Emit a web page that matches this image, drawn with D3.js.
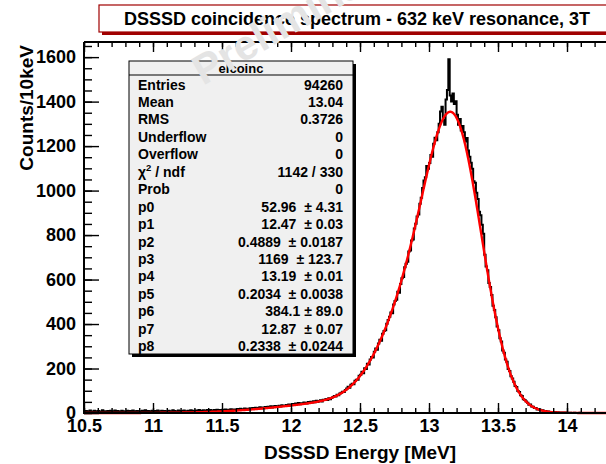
<!DOCTYPE html>
<html>
<head>
<meta charset="utf-8">
<script src="https://cdn.jsdelivr.net/npm/d3@7"></script>
<style>
  body { margin: 0; background: #fff; }
  svg text { font-family: "Liberation Sans", Arial, Helvetica, sans-serif; font-weight: bold; }
</style>
</head>
<body>
<div id="plot"></div>
<script>
// histogram: 400 bins of 10 keV from 10.5 MeV
var binLow = 10.5;
var binWidth = 0.01;
var counts = [
  6, 9, 4, 8, 11, 5, 7, 10, 6, 8,
  9, 5, 7, 12, 6, 8, 4, 9, 7, 10,
  5, 8, 11, 6, 9, 7, 5, 10, 8, 6,
  7, 10, 6, 9, 5, 11, 8, 6, 9, 7,
  8, 6, 10, 7, 12, 5, 9, 8, 6, 10,
  7, 9, 6, 11, 8, 5, 10, 7, 9, 8,
  6, 10, 8, 7, 12, 9, 5, 8, 11, 7,
  9, 7, 11, 8, 6, 10, 9, 12, 7, 10,
  8, 11, 9, 13, 7, 10, 12, 9, 11, 14,
  10, 13, 11, 9, 14, 12, 15, 10, 13, 12,
  14, 11, 16, 13, 15, 12, 17, 14, 16, 13,
  15, 18, 14, 19, 16, 17, 20, 15, 19, 18,
  21, 18, 22, 19, 24, 20, 23, 26, 21, 25,
  24, 27, 23, 28, 26, 30, 25, 29, 31, 27,
  30, 33, 29, 35, 32, 31, 36, 33, 38, 34,
  37, 41, 38, 43, 40, 45, 39, 44, 42, 47,
  45, 43, 49, 46, 51, 47, 53, 48, 55, 50,
  54, 57, 52, 60, 58, 63, 59, 66, 62, 68,
  72, 76, 74, 82, 80, 88, 91, 96, 94, 103,
  110, 118, 114, 127, 131, 129, 145, 150, 149, 168,
  172, 185, 179, 201, 198, 221, 218, 240, 252, 249,
  275, 290, 284, 312, 329, 325, 356, 369, 372, 401,
  418, 433, 452, 449, 488, 503, 509, 545, 541, 580,
  606, 612, 655, 671, 680, 726, 731, 776, 780, 829,
  851, 884, 893, 941, 968, 1012, 1045, 1060, 1110, 1098,
  1124, 1160, 1152, 1210, 1238, 1226, 1262, 1301, 1355, 1377,
  1318, 1296, 1410, 1452, 1590, 1428, 1401, 1436, 1389, 1402,
  1341, 1296, 1322, 1270, 1290, 1262, 1221, 1236, 1180, 1152,
  1125, 1098, 1042, 1035, 990, 962, 905, 889, 846, 806,
  712, 659, 642, 585, 567, 530, 482, 463, 431, 389,
  372, 336, 321, 281, 271, 240, 230, 198, 189, 165,
  155, 141, 121, 117, 99, 94, 80, 76, 62, 59,
  52, 46, 37, 38, 29, 28, 22, 23, 16, 17,
  15, 11, 12, 8, 9, 6, 7, 4, 5, 3,
  3, 4, 2, 3, 2, 1, 2, 1, 2, 1,
  1, 0, 1, 0, 0, 1, 0, 0, 0, 1,
  0, 0, 0, 0, 0, 0, 0, 0, 0, 0,
  0, 0, 0, 0, 0, 0, 0, 0, 0, 0,
  0, 0, 0, 0, 0, 0, 0, 0, 0, 0,
  0, 0, 0, 0, 0, 0, 0, 0, 0, 0
];

// fit: three gaussians, (amplitude, mean, sigma) from the stats box
var fitAmp   = [52.96, 1169, 384.1];
var fitMean  = [12.47, 13.19, 12.87];
var fitSigma = [0.4889, 0.2034, 0.2338];

var xTicks = [10.5, 11, 11.5, 12, 12.5, 13, 13.5, 14, 14.5];
var xLabels = [10.5, 11, 11.5, 12, 12.5, 13, 13.5, 14];
var yTicks = [0, 200, 400, 600, 800, 1000, 1200, 1400, 1600];

var statName = "elcoinc";
var statLabels = ["Entries", "Mean", "RMS", "Underflow", "Overflow", "chi2", "Prob",
                  "p0", "p1", "p2", "p3", "p4", "p5", "p6", "p7", "p8"];
var statValues = ["94260", "13.04", "0.3726", "0", "0", "1142 / 330", "0",
                  "52.96  \u00b1 4.31", "12.47  \u00b1 0.03", "0.4889  \u00b1 0.0187",
                  "1169  \u00b1 123.7", "13.19  \u00b1 0.01", "0.2034  \u00b1 0.0038",
                  "384.1 \u00b1 89.0", "12.87  \u00b1 0.07", "0.2338  \u00b1 0.0244"];

var title = "DSSSD coincidence spectrum - 632 keV resonance, 3T";

var W = 606, H = 464;
var svg = d3.select("#plot").append("svg")
  .attr("width", W).attr("height", H);

var x = d3.scaleLinear().domain([10.5, 14.5]).range([84, 636]);
var y = d3.scaleLinear().domain([0, 1668]).range([413, 42]);

// histogram step line
var edges = counts.map(function(c, i) { return [binLow + i * binWidth, c]; });
edges.push([binLow + counts.length * binWidth, counts[counts.length - 1]]);
var step = d3.line()
  .x(function(d) { return x(d[0]); })
  .y(function(d) { return y(d[1]); })
  .curve(d3.curveStepAfter);
svg.append("path")
  .datum(edges)
  .attr("d", step)
  .attr("fill", "none")
  .attr("stroke", "#000")
  .attr("stroke-width", 2);

// fit curve
function fitFn(e) {
  var s = 0;
  for (var k = 0; k < fitAmp.length; k++) {
    var z = (e - fitMean[k]) / fitSigma[k];
    s += fitAmp[k] * Math.exp(-0.5 * z * z);
  }
  return s;
}
var fitPts = d3.range(10.5, 14.5001, 0.004).map(function(e) { return [e, fitFn(e)]; });
svg.append("path")
  .datum(fitPts)
  .attr("d", d3.line().x(function(d) { return x(d[0]); }).y(function(d) { return y(d[1]); }))
  .attr("fill", "none")
  .attr("stroke", "#ff0000")
  .attr("stroke-width", 2.4);

// axes
var xMinor = d3.range(10.5, 14.5001, 0.1).map(function(v) { return +v.toFixed(2); });
var yMinor = d3.range(0, 1668, 50);

function styleAxis(g) {
  g.selectAll("line").attr("stroke", "#000").attr("stroke-width", 1.4);
  g.select(".domain").remove();
  g.selectAll("text").attr("fill", "#000").attr("font-size", 18);
}

svg.append("g").attr("transform", "translate(0,413)")
  .call(d3.axisBottom(x).tickValues(xMinor).tickSize(-5).tickFormat(""))
  .call(styleAxis);
svg.append("g").attr("transform", "translate(0,413)")
  .call(d3.axisBottom(x).tickValues(xTicks).tickSize(-10).tickFormat(""))
  .call(styleAxis);
svg.append("g").attr("transform", "translate(0,413)")
  .call(d3.axisBottom(x).tickValues(xLabels).tickSize(0).tickPadding(6)
    .tickFormat(d3.format("")))
  .call(styleAxis);

svg.append("g").attr("transform", "translate(0,42)")
  .call(d3.axisTop(x).tickValues(xMinor).tickSize(-5).tickFormat(""))
  .call(styleAxis);
svg.append("g").attr("transform", "translate(0,42)")
  .call(d3.axisTop(x).tickValues(xTicks).tickSize(-10).tickFormat(""))
  .call(styleAxis);

svg.append("g").attr("transform", "translate(84,0)")
  .call(d3.axisLeft(y).tickValues(yMinor).tickSize(-8).tickFormat(""))
  .call(styleAxis);
svg.append("g").attr("transform", "translate(84,0)")
  .call(d3.axisLeft(y).tickValues(yTicks).tickSize(-15).tickPadding(8)
    .tickFormat(d3.format("d")))
  .call(styleAxis);

// frame
svg.append("path")
  .attr("d", "M84,42 V413 H" + x(14.5))
  .attr("fill", "none").attr("stroke", "#000").attr("stroke-width", 2);
svg.append("line")
  .attr("x1", 84).attr("x2", x(14.5)).attr("y1", 42).attr("y2", 42)
  .attr("stroke", "#000").attr("stroke-width", 2);

// axis titles
svg.append("text")
  .attr("x", (x(10.5) + x(14.5)) / 2).attr("y", 459)
  .attr("text-anchor", "middle").attr("font-size", 19)
  .text("DSSSD Energy [MeV]");
svg.append("text")
  .attr("transform", "translate(33,45) rotate(-90)")
  .attr("text-anchor", "end").attr("font-size", 19)
  .text("Counts/10keV");

// stats box
var sb = { x: 129, y: 61, w: 224, h: 293 };
svg.append("rect")
  .attr("x", sb.x + 3).attr("y", sb.y + 3).attr("width", sb.w).attr("height", sb.h)
  .attr("fill", "#000");
svg.append("rect")
  .attr("x", sb.x).attr("y", sb.y).attr("width", sb.w).attr("height", sb.h)
  .attr("fill", "#f0f0f0").attr("stroke", "#000").attr("stroke-width", 1);
svg.append("line")
  .attr("x1", sb.x).attr("x2", sb.x + sb.w).attr("y1", sb.y + 14).attr("y2", sb.y + 14)
  .attr("stroke", "#000").attr("stroke-width", 1);
svg.append("text")
  .attr("x", sb.x + sb.w / 2).attr("y", sb.y + 12)
  .attr("text-anchor", "middle").attr("font-size", 13)
  .text(statName);

var rowY = d3.scaleLinear().domain([0, 1]).range([89.5, 106.95]);
statLabels.forEach(function(lab, i) {
  var t = svg.append("text")
    .attr("x", 138).attr("y", rowY(i)).attr("font-size", 14);
  if (lab === "chi2") {
    t.append("tspan").text("\u03c7");
    t.append("tspan").attr("font-size", 9.5).attr("dy", -6).text("2");
    t.append("tspan").attr("dy", 6).text(" / ndf");
  } else {
    t.text(lab);
  }
  svg.append("text")
    .attr("x", 343).attr("y", rowY(i)).attr("font-size", 14)
    .attr("text-anchor", "end")
    .style("white-space", "pre")
    .text(statValues[i]);
});

// title box
svg.append("rect")
  .attr("x", 102).attr("y", 8).attr("width", 530).attr("height", 27)
  .attr("fill", "#a00000");
svg.append("rect")
  .attr("x", 99).attr("y", 5).attr("width", 530).attr("height", 27)
  .attr("fill", "#fff").attr("stroke", "#a00000").attr("stroke-width", 1.2);
svg.append("text")
  .attr("x", 357).attr("y", 25)
  .attr("text-anchor", "middle").attr("font-size", 18)
  .text(title);

// watermark
svg.append("text")
  .attr("transform", "translate(203,86) rotate(-30)")
  .attr("font-size", 42).attr("font-weight", "normal")
  .attr("fill", "#e4e4e4")
  .text("Preliminary");
</script>
</body>
</html>
